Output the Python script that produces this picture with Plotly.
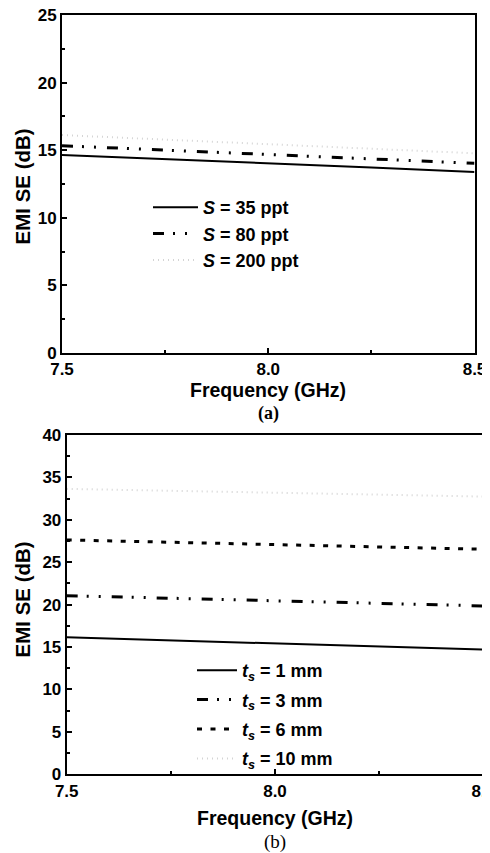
import plotly.graph_objects as go

freq = [7.5, 7.75, 8.0, 8.25, 8.5]

# panel (a): salinity S
s_names = ["<i>S</i> = 35 ppt", "<i>S</i> = 80 ppt", "<i>S</i> = 200 ppt"]
se_s35 = [14.64, 14.35, 14.05, 13.72, 13.39]
se_s80 = [15.33, 15.00, 14.68, 14.35, 14.03]
se_s200 = [16.12, 15.78, 15.44, 15.10, 14.77]

# panel (b): thickness t_s
t_names = ["<i>t<sub>s</sub></i> = 1 mm", "<i>t<sub>s</sub></i> = 3 mm",
           "<i>t<sub>s</sub></i> = 6 mm", "<i>t<sub>s</sub></i> = 10 mm"]
se_t1 = [16.15, 15.78, 15.42, 15.06, 14.70]
se_t3 = [21.06, 20.76, 20.45, 20.15, 19.85]
se_t6 = [27.63, 27.35, 27.08, 26.80, 26.53]
se_t10 = [33.65, 33.42, 33.20, 32.97, 32.74]

# page body has an 8px margin, so the figure fills the rest of the window
OFF = 8
W, H = 490 - OFF, 853 - OFF
FONT = "Liberation Sans, Arial, sans-serif"

solid = dict(color="black", width=2, dash="solid")
dashdotdot = dict(color="black", width=3, dash="11px,9px,2px,10px,2px,11px")
dashed = dict(color="black", width=3, dash="5px,8.5px")
dotted = dict(color="#d4d4d4", width=2, dash="1px,4px")

fig = go.Figure()
for i, (name, ys, ln) in enumerate(zip(s_names, [se_s35, se_s80, se_s200], [solid, dashdotdot, dotted])):
    fig.add_trace(go.Scatter(x=freq, y=ys, mode="lines", name=name, line=ln,
                             xaxis="x", yaxis="y", legend="legend", legendgroup="a%d" % i))
for i, (name, ys, ln) in enumerate(zip(t_names, [se_t1, se_t3, se_t6, se_t10], [solid, dashdotdot, dashed, dotted])):
    fig.add_trace(go.Scatter(x=freq, y=ys, mode="lines", name=name, line=ln,
                             xaxis="x2", yaxis="y2", legend="legend2", legendgroup="b%d" % i))

def px_x(p):
    return (p - OFF) / W

def px_y(p):
    return 1 - (p - OFF) / H

tickfont = dict(family=FONT, size=17, color="black", weight="bold")
minor_base = dict(ticks="inside", ticklen=3, tickwidth=1.5, tickcolor="black", showgrid=False)
common_axis = dict(showline=True, linecolor="black", linewidth=2, mirror=True,
                   ticks="inside", ticklen=5, tickwidth=1.5, tickcolor="black",
                   showgrid=False, zeroline=False, tickfont=tickfont, automargin=False,
                   ticklabeloverflow="allow")

fig.update_layout(
    width=W, height=H,
    margin=dict(l=0, r=0, t=0, b=0, autoexpand=False),
    paper_bgcolor="white", plot_bgcolor="white",
    xaxis=dict(domain=[px_x(62), px_x(474.5)], range=[7.5, 8.5], anchor="y",
               tickvals=[7.5, 8.0, 8.5], ticktext=["7.5", "8.0", "8.5"],
               minor=dict(minor_base, tickvals=[7.75, 8.25]), **common_axis),
    yaxis=dict(domain=[px_y(353), px_y(15)], range=[0, 25], anchor="x",
               dtick=5, minor=dict(minor_base, dtick=2.5), **common_axis),
    xaxis2=dict(domain=[px_x(66.7), px_x(483.3)], range=[7.5, 8.5], anchor="y2",
                tickvals=[7.5, 8.0, 8.5], ticktext=["7.5", "8.0", "8.5"],
                minor=dict(minor_base, tickvals=[7.75, 8.25]), **common_axis),
    yaxis2=dict(domain=[px_y(774.3), px_y(435)], range=[0, 40], anchor="x2",
                dtick=5, minor=dict(minor_base, dtick=2.5), **common_axis),
    legend=dict(x=px_x(148), y=px_y(189), xanchor="left", yanchor="top",
                bgcolor="rgba(0,0,0,0)", borderwidth=0, itemwidth=45,
                font=dict(family=FONT, size=18, color="black", weight="bold"),
                tracegroupgap=0),
    legend2=dict(x=px_x(192), y=px_y(652), xanchor="left", yanchor="top",
                 bgcolor="rgba(0,0,0,0)", borderwidth=0, itemwidth=40,
                 font=dict(family=FONT, size=18, color="black", weight="bold"),
                 tracegroupgap=3),
    showlegend=True,
)

xt_font = dict(family=FONT, size=19.5, color="black", weight="bold")
yt_font = dict(family=FONT, size=20.5, color="black", weight="bold")
fig.add_annotation(text="Frequency (GHz)", x=px_x(268), y=px_y(390), xref="paper", yref="paper",
                   showarrow=False, font=xt_font, xanchor="center", yanchor="middle")
fig.add_annotation(text="EMI SE (dB)", x=px_x(21.5), y=px_y(187), xref="paper", yref="paper",
                   showarrow=False, font=yt_font, textangle=-90, xanchor="center", yanchor="middle")
fig.add_annotation(text="(a)", x=px_x(268), y=px_y(413), xref="paper", yref="paper",
                   showarrow=False, font=dict(family="Liberation Serif, Times New Roman, serif",
                                               size=18, color="black", weight="bold"),
                   xanchor="center", yanchor="middle")
fig.add_annotation(text="Frequency (GHz)", x=px_x(275), y=px_y(818), xref="paper", yref="paper",
                   showarrow=False, font=xt_font, xanchor="center", yanchor="middle")
fig.add_annotation(text="EMI SE (dB)", x=px_x(21.5), y=px_y(600), xref="paper", yref="paper",
                   showarrow=False, font=yt_font, textangle=-90, xanchor="center", yanchor="middle")
fig.add_annotation(text="(b)", x=px_x(275), y=px_y(842), xref="paper", yref="paper",
                   showarrow=False, font=dict(family="Liberation Serif, Times New Roman, serif",
                                               size=19, color="black"),
                   xanchor="center", yanchor="middle")

fig.write_html("out.html")
